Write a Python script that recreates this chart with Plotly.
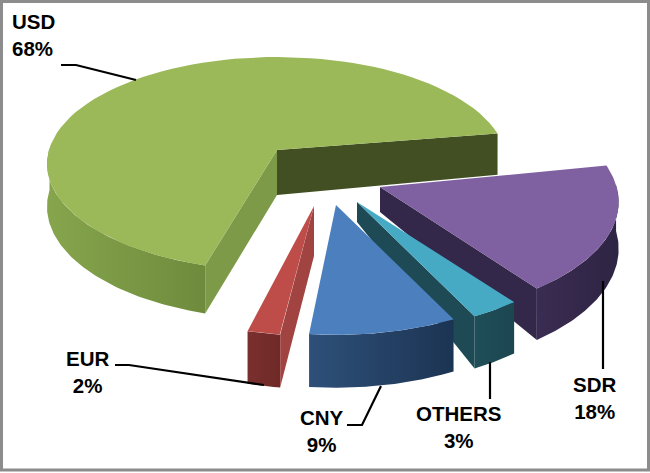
import numpy as np
import plotly.graph_objects as go

# 通貨別シェア (%)
labels = ["USD", "SDR", "OTHERS", "CNY", "EUR"]
values = [68, 18, 3, 9, 2]

top_colors = ["#9BB959", "#7F60A0", "#46AAC5", "#4B7FBE", "#BE4D4A"]
wall_colors = [
    ["#86A54C", "#6E8B3D"],
    ["#3A2C52", "#2E2443"],
    ["#1F4E59", "#1C4650"],
    ["#2E5079", "#1C3453"],
    ["#7A2F2D", "#6E2A28"],
]
cut_colors = ["#7C9A47", "#33274A", "#1D4A54", None, "#A04341"]

# 見た目の設定: 頂点, 横倍率, 縦倍率, 角度ずれ, 頂点の厚み, 外周の厚み
geom = {
    "USD": ((277, 150), 0.983, 0.93, 1, 45, 42),
    "SDR": ((380, 187), 1.02, 1, -1, 25, 46),
    "OTHERS": ((357, 202), 1, 1, -2, 20, 46),
    "CNY": ((336, 205), 1, 1, -2, 20, 46),
    "EUR": ((314, 206), 1, 1, -0.5, 50, 46),
}
R = 232
RY = 113
P = 0.13
START = 195  # USD starts here, clockwise


def project(theta, h, g):
    c, fx, fy = g[0], g[1], g[2]
    t = np.radians(theta + g[3])
    s = 1 / (1 + P * np.cos(t))
    x = c[0] + R * fx * np.sin(t) * s
    y = c[1] - RY * fy * np.cos(t) * s + h * s
    return x, y


def arc(a0, a1, h, g):
    th = np.linspace(a0, a1, 80)
    return project(th, h, g)


def poly(x, y, color=None, gradient=None):
    tr = dict(x=x, y=y, mode="lines", fill="toself", line=dict(width=0),
              hoverinfo="skip", showlegend=False)
    if gradient:
        tr["fillgradient"] = dict(type="horizontal",
                                  colorscale=[[0, gradient[0]], [1, gradient[1]]])
    else:
        tr["fillcolor"] = color
    return go.Scatter(**tr)


# 角度はデータから計算
spans = {}
a = START
for name, v in zip(labels, values):
    spans[name] = (a, a + v * 3.6)
    a = (a + v * 3.6) % 360

fig = go.Figure()

for name in ["USD", "SDR", "OTHERS", "EUR", "CNY"]:
    i = labels.index(name)
    g = geom[name]
    cx, cy = g[0]
    depth = g[5]
    a0, a1 = spans[name]
    bx, by = cx, cy + g[4]

    if name == "USD":
        ex, ey = project(a1, 0, g)
        fx, fy = project(a1, depth, g)
        fig.add_trace(poly([cx, ex, fx, bx, cx], [cy, ey, fy, by, cy], "#414F22"))
        wall = (a0, 270)
    elif name == "SDR":
        wall = (90, a1)
    else:
        wall = (a0, a1)

    # 外周の側面
    tx, ty = arc(wall[0], wall[1], 0, g)
    ux, uy = arc(wall[0], wall[1], depth, g)
    fig.add_trace(poly(np.r_[tx, ux[::-1], tx[0]], np.r_[ty, uy[::-1], ty[0]],
                       gradient=wall_colors[i]))

    # 切り口
    if cut_colors[i]:
        edge = a0 if name in ("USD", "EUR") else a1
        ex, ey = project(edge, 0, g)
        fx, fy = project(edge, depth, g)
        fig.add_trace(poly([cx, ex, fx, bx, cx], [cy, ey, fy, by, cy], cut_colors[i]))

    # 上面
    tx, ty = arc(a0, a1, 0, g)
    fig.add_trace(poly(np.r_[cx, tx, cx], np.r_[cy, ty, cy], top_colors[i]))

# 引き出し線
leaders = {
    "USD": ([61, 76, 136], [65, 65, 80]),
    "EUR": ([115, 129, 264], [365, 365, 385]),
    "CNY": ([347, 362, 381], [425, 425, 386]),
    "OTHERS": ([490, 490], [362, 399]),
    "SDR": ([603, 603], [281, 369]),
}
for lx, ly in leaders.values():
    fig.add_trace(go.Scatter(x=lx, y=ly, mode="lines", line=dict(color="black", width=2.2),
                             hoverinfo="skip", showlegend=False))

label_pos = {"USD": (33, 35), "SDR": (594, 398), "OTHERS": (458, 427), "CNY": (322, 431), "EUR": (87, 372)}
for name, v in zip(labels, values):
    fig.add_annotation(x=label_pos[name][0], y=label_pos[name][1], text=f"<b>{name}<br>{v}%</b>",
                       showarrow=False, align="left" if name == "USD" else "center",
                       font=dict(family="Liberation Sans", size=20.5, color="black"))

fig.update_layout(
    width=650, height=473, autosize=False,
    margin=dict(l=0, r=0, t=0, b=0),
    paper_bgcolor="white", plot_bgcolor="white",
    xaxis=dict(range=[0, 650], visible=False),
    yaxis=dict(range=[473, 0], visible=False),
    shapes=[dict(type="rect", x0=1.5, y0=1.5, x1=648.5, y1=470, line=dict(color="#8C8C8C", width=3))],
)

fig.write_html("out.html", post_script="document.body.style.margin='0';",
               config={"displayModeBar": False})
